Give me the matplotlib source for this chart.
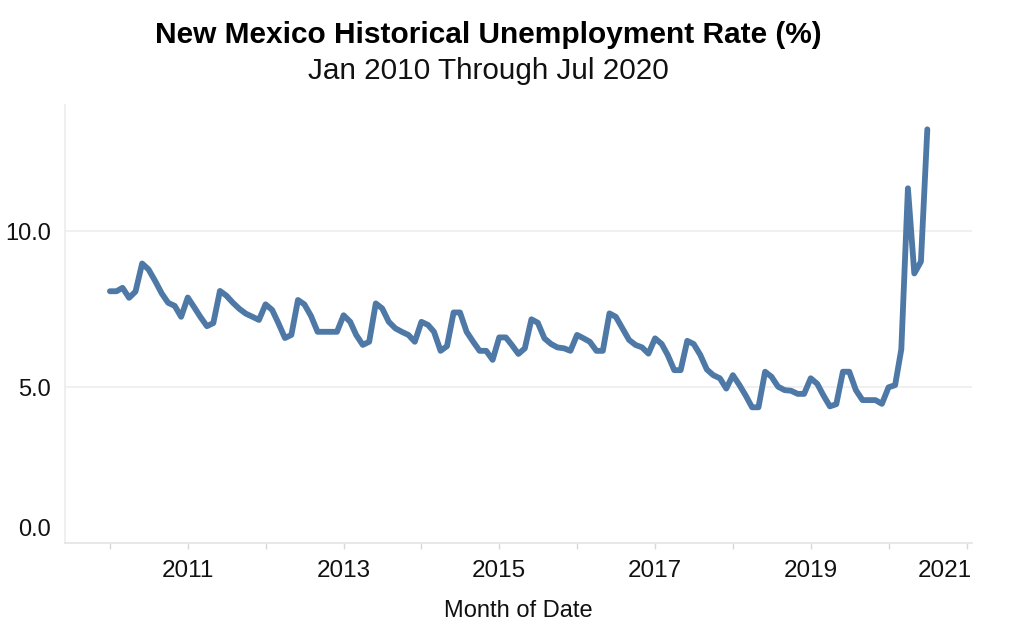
import matplotlib
matplotlib.use("Agg")
import matplotlib.pyplot as plt
import matplotlib.dates as mdates
import matplotlib.transforms as mtransforms
import pandas as pd
import datetime as dt

plt.rcParams['font.family'] = ['Liberation Sans', 'DejaVu Sans']

dates = pd.date_range("2010-01-01", "2020-07-01", freq="MS")

rate_2010 = [8.07, 8.07, 8.18, 7.86, 8.06, 8.96, 8.77, 8.4, 8.0, 7.7, 7.6, 7.25]
rate_2011 = [7.87, 7.55, 7.25, 6.95, 7.05, 8.08, 7.93, 7.7, 7.5, 7.35, 7.25, 7.15]
rate_2012 = [7.65, 7.47, 7.05, 6.57, 6.67, 7.79, 7.65, 7.28, 6.77, 6.77, 6.77, 6.77]
rate_2013 = [7.3, 7.09, 6.67, 6.35, 6.45, 7.68, 7.52, 7.09, 6.88, 6.77, 6.67, 6.45]
rate_2014 = [7.09, 6.99, 6.77, 6.16, 6.31, 7.39, 7.39, 6.77, 6.45, 6.16, 6.16, 5.87]
rate_2015 = [6.59, 6.59, 6.35, 6.06, 6.24, 7.17, 7.06, 6.56, 6.38, 6.27, 6.24, 6.16]
rate_2016 = [6.67, 6.56, 6.45, 6.16, 6.16, 7.36, 7.25, 6.88, 6.51, 6.35, 6.27, 6.07]
rate_2017 = [6.56, 6.38, 6.03, 5.54, 5.54, 6.48, 6.38, 6.03, 5.56, 5.38, 5.28, 4.95]
rate_2018 = [5.38, 5.06, 4.74, 4.35, 4.35, 5.49, 5.33, 5.01, 4.90, 4.88, 4.78, 4.78]
rate_2019 = [5.28, 5.10, 4.74, 4.38, 4.45, 5.49, 5.49, 4.90, 4.58, 4.58, 4.58, 4.46]
rate_2020 = [4.99, 5.06, 6.21, 11.37, 8.64, 9.02, 13.26]

rates = (rate_2010 + rate_2011 + rate_2012 + rate_2013 + rate_2014 + rate_2015 +
         rate_2016 + rate_2017 + rate_2018 + rate_2019 + rate_2020)

y_ticks = [0.0, 5.0, 10.0]
y_tick_labels = ["0.0", "5.0", "10.0"]
x_label_years = [2011, 2013, 2015, 2017, 2019, 2021]

fig = plt.figure(figsize=(10.09, 6.35), dpi=100)
ax = fig.add_axes([65/1009, 1-543/635, (972-65)/1009, (543-105)/635])

ax.plot(dates, rates, color="#4E79A7", linewidth=4.2, solid_joinstyle="round",
        solid_capstyle="round", zorder=3)

ax.set_ylim(0, 14.04)
ax.set_yticks(y_ticks)
ax.set_yticklabels(y_tick_labels)
ax.grid(axis="y", color="#efefef", linewidth=1.3, zorder=0)

left = mdates.date2num(dt.datetime(2010, 1, 1)) - 0.577*365.25
right = mdates.date2num(dt.datetime(2021, 1, 1)) + 0.07*365.25
ax.set_xlim(left, right)

ax.xaxis.set_minor_locator(mdates.YearLocator(1, month=1, day=1))
major = [mdates.date2num(dt.datetime(y, 1, 1)) for y in x_label_years]
ax.set_xticks(major)
ax.set_xticklabels([str(y) for y in x_label_years])

ax.tick_params(axis="x", which="both", length=4.5, width=1, color="#d8d8d8",
               labelsize=17.5, pad=8, labelcolor="#111111")
ax.tick_params(axis="y", length=0, labelsize=17, pad=10, labelcolor="#111111")

xl = ax.get_xticklabels()
xl[-1].set_horizontalalignment("right")
xl[-1].set_transform(xl[-1].get_transform() +
                     mtransforms.ScaledTranslation(5/100, 0, fig.dpi_scale_trans))
yl = ax.get_yticklabels()
yl[0].set_transform(yl[0].get_transform() +
                    mtransforms.ScaledTranslation(0, 15/100, fig.dpi_scale_trans))

for s in ["top", "right"]:
    ax.spines[s].set_visible(False)
ax.spines["left"].set_color("#ececec")
ax.spines["bottom"].set_color("#e6e6e6")
ax.spines["left"].set_linewidth(1.2)
ax.spines["bottom"].set_linewidth(1.3)

ax.set_xlabel("Month of Date", fontsize=17, labelpad=13, color="#111111")

fig.text(488/1009, 1-35/635, "New Mexico Historical Unemployment Rate (%)",
         ha="center", va="center", fontsize=21.5, fontweight="bold", color="#000000")
fig.text(488/1009, 1-71/635, "Jan 2010 Through Jul 2020",
         ha="center", va="center", fontsize=21.4, color="#111111")

fig.savefig("out.png", dpi=100)
